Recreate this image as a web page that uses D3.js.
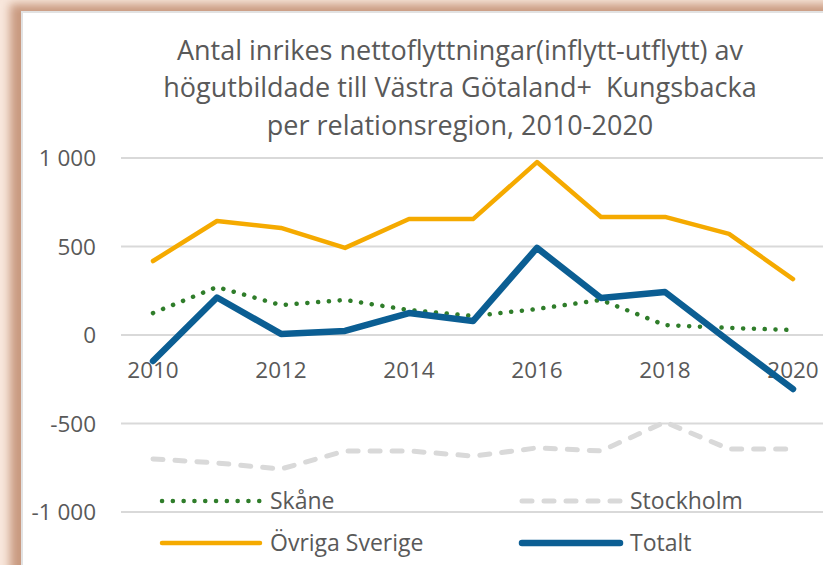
<!DOCTYPE html>
<html>
<head>
<meta charset="utf-8">
<script src="https://cdn.jsdelivr.net/npm/d3@7"></script>
<style>
  html, body { margin: 0; padding: 0; background: #f8e7dc; overflow: hidden; }
  svg { display: block; font-family: "Open Sans", Lato, sans-serif; }
  text { white-space: pre; }
</style>
</head>
<body>
<svg id="chart"></svg>
<script>
// data
const years = [2010, 2011, 2012, 2013, 2014, 2015, 2016, 2017, 2018, 2019, 2020];
const skane = [124, 271, 169, 198, 141, 107, 147, 198, 56, 40, 28];
const stockholm = [-700, -723, -757, -655, -655, -684, -638, -655, -492, -644, -644];
const ovriga = [418, 644, 605, 492, 655, 655, 977, 667, 667, 571, 316];
const totalt = [-147, 212, 6, 23, 124, 79, 492, 209, 243, -34, -305];
const yTicks = [1000, 500, 0, -500, -1000];
const titleLines = [
  "Antal inrikes nettoflyttningar(inflytt-utflytt) av",
  "högutbildade till Västra Götaland+  Kungsbacka",
  "per relationsregion, 2010-2020"
];

const W = 823, H = 565;
const textColor = "#595959";

const svg = d3.select("#chart").attr("width", W).attr("height", H);

// frame / shadow round the chart
const defs = svg.append("defs");
const blur = defs.append("filter").attr("id", "blur")
  .attr("x", "-10%").attr("y", "-10%").attr("width", "120%").attr("height", "120%");
blur.append("feGaussianBlur").attr("stdDeviation", 5);

svg.append("rect").attr("x", 10).attr("y", 4).attr("width", 900).attr("height", 700)
  .attr("fill", "#c99a80").attr("filter", "url(#blur)");
svg.append("rect").attr("x", 22).attr("y", 12).attr("width", 900).attr("height", 700)
  .attr("fill", "#fff").attr("stroke", "#e2e2e2").attr("stroke-width", 2);

// scales
const x = d3.scaleBand().domain(years).range([121, 825]);
const cx = d => x(d) + x.bandwidth() / 2;
const y = d3.scaleLinear().domain([-1000, 1000]).range([512, 158]);

// gridlines
svg.append("g")
  .selectAll("line")
  .data(yTicks)
  .join("line")
  .attr("x1", 121).attr("x2", 830)
  .attr("y1", d => y(d)).attr("y2", d => y(d))
  .attr("stroke", "#d9d9d9").attr("stroke-width", 2);

// y labels
const fmt = d => d3.format(",")(d).replace(",", " ").replace("−", "-");
svg.append("g")
  .selectAll("text")
  .data(yTicks)
  .join("text")
  .attr("x", 96).attr("y", d => y(d)).attr("dy", "0.36em")
  .attr("text-anchor", "end")
  .attr("fill", textColor).style("font-size", "22.5px")
  .text(fmt);

// x labels (every other year), sitting under the zero line
svg.append("g")
  .selectAll("text")
  .data(years.filter((d, i) => i % 2 === 0))
  .join("text")
  .attr("x", cx).attr("y", y(0) + 35).attr("dy", "0.36em")
  .attr("text-anchor", "middle")
  .attr("fill", textColor).style("font-size", "22.5px")
  .text(d => d);

// title
svg.append("g")
  .selectAll("text")
  .data(titleLines)
  .join("text")
  .attr("x", 460).attr("y", (d, i) => 50 + i * 37.5).attr("dy", "0.36em")
  .attr("text-anchor", "middle")
  .attr("fill", textColor).style("font-size", "27px")
  .text(d => d);

// series
const series = [
  {name: "Skåne", values: skane, color: "#2f7d2a", width: 4.5, dash: "0.1 10.7", cap: "round"},
  {name: "Stockholm", values: stockholm, color: "#d9d9d9", width: 5, dash: "10 12", cap: "round"},
  {name: "Övriga Sverige", values: ovriga, color: "#f5aa00", width: 4.5, dash: null, cap: "round"},
  {name: "Totalt", values: totalt, color: "#0b5e93", width: 6.5, dash: null, cap: "round"}
];

const line = d3.line()
  .x((d, i) => cx(years[i]))
  .y(d => y(d));

svg.append("g")
  .selectAll("path")
  .data(series)
  .join("path")
  .attr("d", d => line(d.values))
  .attr("fill", "none")
  .attr("stroke", d => d.color)
  .attr("stroke-width", d => d.width)
  .attr("stroke-dasharray", d => d.dash)
  .attr("stroke-linecap", d => d.cap)
  .attr("stroke-linejoin", "round");

// legend
const legendPos = [
  {x: 162, y: 501}, {x: 522, y: 501},
  {x: 162, y: 543}, {x: 522, y: 543}
];
const leg = svg.append("g")
  .selectAll("g")
  .data(series)
  .join("g")
  .attr("transform", (d, i) => `translate(${legendPos[i].x},${legendPos[i].y})`);

leg.append("line")
  .attr("x1", 0).attr("x2", 98)
  .attr("stroke", d => d.color)
  .attr("stroke-width", d => d.width)
  .attr("stroke-dasharray", d => d.dash)
  .attr("stroke-linecap", d => d.cap);

leg.append("text")
  .attr("x", 108).attr("dy", "0.36em")
  .attr("fill", textColor).style("font-size", "23px")
  .text(d => d.name);
</script>
</body>
</html>
